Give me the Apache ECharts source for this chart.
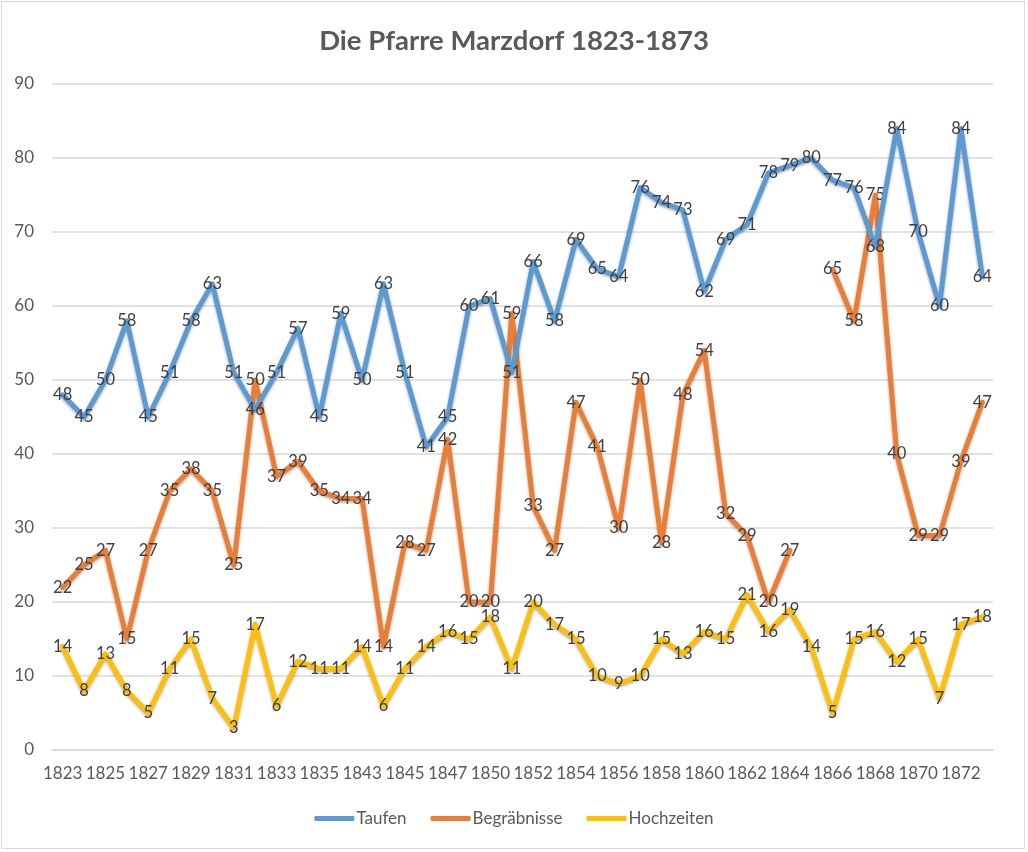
<!DOCTYPE html>
<html>
<head>
<meta charset="utf-8">
<script src="https://cdn.jsdelivr.net/npm/echarts@6/dist/echarts.min.js"></script>
<style>
html,body{margin:0;padding:0;background:#fff;}
#wrap{position:absolute;left:1px;top:1px;width:1024px;height:848px;border:1px solid #d9d9d9;box-sizing:border-box;}
#c{position:absolute;left:0;top:0;width:1028px;height:852px;}
</style>
</head>
<body>
<div id="wrap"></div>
<div id="c"></div>
<script>
const categories = ['1823','1824','1825','1826','1827','1828','1829','1830','1831','1832','1833','1834','1835','1842','1843','1844','1845','1846','1847','1849','1850','1851','1852','1853','1854','1855','1856','1857','1858','1859','1860','1861','1862','1863','1864','1865','1866','1867','1868','1869','1870','1871','1872','1873'];
const taufen = [48,45,50,58,45,51,58,63,51,46,51,57,45,59,50,63,51,41,45,60,61,51,66,58,69,65,64,76,74,73,62,69,71,78,79,80,77,76,68,84,70,60,84,64];
const begraebnisse = [22,25,27,15,27,35,38,35,25,50,37,39,35,34,34,14,28,27,42,20,20,59,33,27,47,41,30,50,28,48,54,32,29,20,27,null,65,58,75,40,29,29,39,47];
const hochzeiten = [14,8,13,8,5,11,15,7,3,17,6,12,11,11,14,6,11,14,16,15,18,11,20,17,15,10,9,10,15,13,16,15,21,16,19,14,5,15,16,12,15,7,17,18];
const yTicks = {min:0, max:90, interval:10};
const seriesNames = ['Taufen','Begräbnisse','Hochzeiten'];
const colors = ['#5B9BD5','#ED7D31','#FFC000'];

const FONT = 'Lato, "Open Sans", sans-serif';
const chart = echarts.init(document.getElementById('c'));
function mk(i, data, z){
  return {
    name: seriesNames[i], type:'line', data: data, connectNulls:false, z:z,
    symbol:'circle', symbolSize:2, showSymbol:true, showAllSymbol:true, smooth:false,
    lineStyle:{color: colors[i], width:5, cap:'round', join:'round', shadowBlur:3, shadowColor:'rgba(0,0,0,0.35)', shadowOffsetY:1.5},
    itemStyle:{color: 'rgba(0,0,0,0)', borderWidth:0},
    label:{show:true, position:'inside', color:'#404040', fontSize:16.5, fontFamily:FONT},
    labelLayout:{hideOverlap:false},
    emphasis:{disabled:true}
  };
}
chart.setOption({
  animation:false,
  title:{text:'Die Pfarre Marzdorf 1823-1873', left:'center', top:22,
    textStyle:{fontSize:27.5, fontWeight:'bold', color:'#595959', fontFamily:FONT}},
  legend:{bottom:20, left:'center', itemWidth:40, itemHeight:5, itemGap:24, icon:'roundRect',
    textStyle:{color:'#595959', fontSize:17, fontFamily:FONT, padding:[0,0,0,-3]},
    data: seriesNames.map((n,i)=>({name:n, itemStyle:{color:colors[i], opacity:1}}))},
  grid:{left:52, right:35, top:84, bottom:102, containLabel:false},
  xAxis:{type:'category', data:categories, boundaryGap:true,
    axisLine:{lineStyle:{color:'#d9d9d9', width:1.5}},
    axisTick:{show:false},
    axisLabel:{interval:1, color:'#595959', fontSize:17, fontFamily:FONT, margin:15}},
  yAxis:{type:'value', min:yTicks.min, max:yTicks.max, interval:yTicks.interval,
    axisLine:{show:false}, axisTick:{show:false},
    splitLine:{lineStyle:{color:'#d9d9d9', width:1.5}},
    axisLabel:{color:'#595959', fontSize:17, fontFamily:FONT, margin:18}},
  series:[mk(0, taufen, 3), mk(1, begraebnisse, 2), mk(2, hochzeiten, 1)]
});
</script>
</body>
</html>
